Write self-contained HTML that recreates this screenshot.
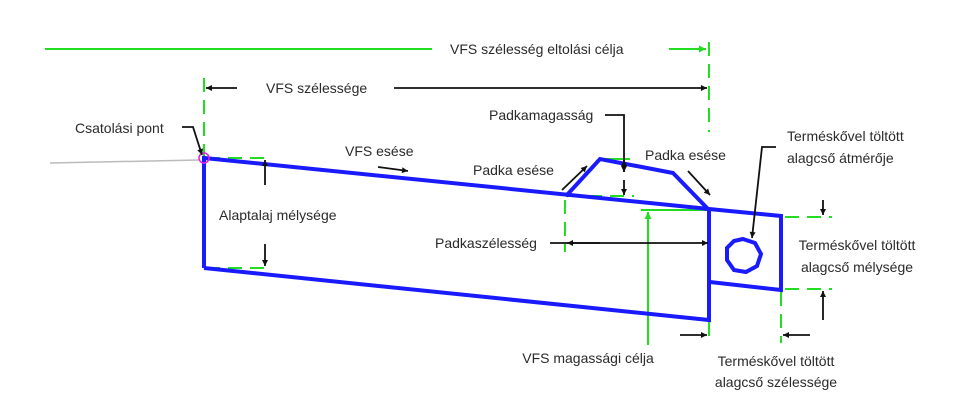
<!DOCTYPE html>
<html><head><meta charset="utf-8"><style>
html,body{margin:0;padding:0;background:#fff;}
svg{display:block}
text{font-family:"Liberation Sans",sans-serif;font-size:14px;fill:#2a2a2a;}
</style></head><body>
<svg width="971" height="410" viewBox="0 0 971 410" xmlns="http://www.w3.org/2000/svg">
<defs>
<marker id="a" viewBox="0 0 10 10" refX="10" refY="5" markerWidth="10" markerHeight="6" orient="auto" markerUnits="userSpaceOnUse"><path d="M0,0 L10,5 L0,10 z" fill="#111"/></marker>
<marker id="g" viewBox="0 0 10 10" refX="10" refY="5" markerWidth="10" markerHeight="7" orient="auto" markerUnits="userSpaceOnUse"><path d="M0,0 L10,5 L0,10 z" fill="#2d2"/></marker>
</defs>
<line x1="50" y1="163" x2="199" y2="160" stroke="#bbb" stroke-width="1.5"/>
<g stroke="#22dd22" stroke-width="2" fill="none">
<line x1="45" y1="49" x2="432" y2="49"/>
<line x1="669" y1="49" x2="706" y2="49" marker-end="url(#g)"/>
<line x1="709" y1="42" x2="709" y2="132" stroke-dasharray="14,8"/>
<line x1="204" y1="78" x2="204" y2="158" stroke-dasharray="14,8"/>
<line x1="206" y1="158" x2="272" y2="158" stroke-dasharray="14,8"/>
<line x1="206" y1="268" x2="272" y2="268" stroke-dasharray="14,8"/>
<line x1="600" y1="159" x2="630" y2="159"/>
<line x1="566" y1="196" x2="634" y2="196" stroke-dasharray="14,8"/>
<line x1="565" y1="200" x2="565" y2="252" stroke-dasharray="14,8"/>
<line x1="641" y1="210" x2="709" y2="210"/>
<line x1="648" y1="345" x2="648" y2="212" marker-end="url(#g)"/>
<line x1="709" y1="210" x2="709" y2="250" stroke-dasharray="14,8"/>
<line x1="709" y1="322" x2="709" y2="343" stroke-dasharray="14,8"/>
<line x1="781" y1="292" x2="781" y2="343" stroke-dasharray="14,8"/>
<line x1="785" y1="217" x2="832" y2="217" stroke-dasharray="14,8"/>
<line x1="785" y1="289" x2="832" y2="289" stroke-dasharray="14,8"/>
</g>
<g stroke="#1a1aff" stroke-width="4" fill="none" stroke-linejoin="miter">
<polyline points="204,268 204,158 709,209 781,216 781,290 710,282"/>
<polyline points="204,268 709,320 709,209"/>
<polyline points="566,196 600,159 673,173 708,209"/>
<polygon points="743,239 755,243 761,254 757,266 746,272 734,270 727,260 727,248 734,241"/>
</g>
<circle cx="204" cy="158" r="5" fill="none" stroke="#e020e0" stroke-width="1.5"/>
<g stroke="#111" stroke-width="1.8" fill="none">
<line x1="237" y1="88" x2="206" y2="88" marker-end="url(#a)"/>
<line x1="394" y1="88" x2="707" y2="88" marker-end="url(#a)"/>
<polyline points="182,127 193,127 202,155" marker-end="url(#a)"/>
<line x1="265" y1="185" x2="265" y2="160" marker-end="url(#a)"/>
<line x1="265" y1="244" x2="265" y2="266" marker-end="url(#a)"/>
<line x1="378" y1="167" x2="408" y2="171" marker-end="url(#a)"/>
<line x1="562" y1="190" x2="587" y2="166" marker-end="url(#a)"/>
<line x1="688" y1="171" x2="710" y2="195" marker-end="url(#a)"/>
<polyline points="605,115 624,115 624,172" marker-end="url(#a)"/>
<line x1="624" y1="172" x2="624" y2="160" marker-end="url(#a)"/>
<line x1="624" y1="180" x2="624" y2="195" marker-end="url(#a)"/>
<line x1="550" y1="243" x2="708" y2="243" marker-end="url(#a)"/>
<line x1="600" y1="243" x2="567" y2="243" marker-end="url(#a)"/>
<polyline points="776,147 762,147 752,238" marker-end="url(#a)"/>
<line x1="823" y1="200" x2="823" y2="215" marker-end="url(#a)"/>
<line x1="823" y1="320" x2="823" y2="291" marker-end="url(#a)"/>
<line x1="680" y1="335" x2="707" y2="335" marker-end="url(#a)"/>
<line x1="810" y1="335" x2="783" y2="335" marker-end="url(#a)"/>
</g>
<text x="450" y="54">VFS szélesség eltolási célja</text>
<text x="266" y="93">VFS szélessége</text>
<text x="489" y="120">Padkamagasság</text>
<text x="75" y="133">Csatolási pont</text>
<text x="345" y="156">VFS esése</text>
<text x="473" y="175">Padka esése</text>
<text x="645" y="160">Padka esése</text>
<text x="787" y="141">Terméskővel töltött</text>
<text x="787" y="163">alagcső átmérője</text>
<text x="219" y="220">Alaptalaj mélysége</text>
<text x="435" y="248">Padkaszélesség</text>
<text x="857" y="250" text-anchor="middle">Terméskővel töltött</text>
<text x="857" y="272" text-anchor="middle">alagcső mélysége</text>
<text x="588" y="363" text-anchor="middle">VFS magassági célja</text>
<text x="776" y="366" text-anchor="middle">Terméskővel töltött</text>
<text x="776" y="387" text-anchor="middle">alagcső szélessége</text>
</svg>
</body></html>
